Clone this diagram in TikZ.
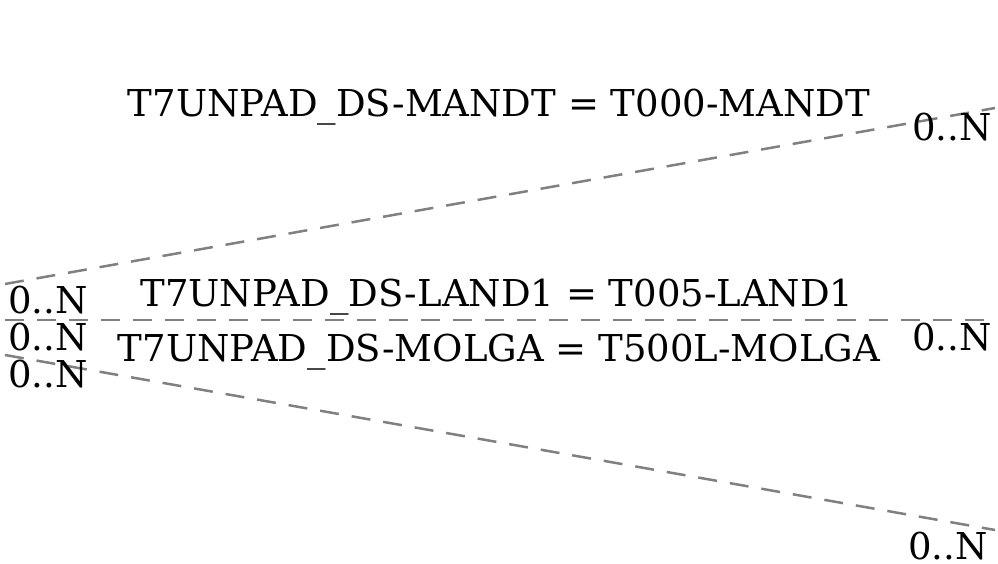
\documentclass[tikz,border=0pt]{standalone}
\usepackage{fontspec}
\setmainfont{DejaVu Serif}
\begin{document}
\begin{tikzpicture}[x=1pt,y=-1pt,
  rel/.style={draw={rgb,255:red,128;green,128;blue,128}, line width=2.5pt, dash pattern=on 19pt off 13pt},
  lbl/.style={inner sep=0pt, font=\fontsize{37}{41}\selectfont},
  card/.style={inner sep=0pt, font=\fontsize{37}{41}\selectfont}]
\useasboundingbox (0,0) rectangle (998,564);
\coordinate (l1) at (5,284);
\coordinate (r1) at (995,108);
\coordinate (l2) at (5,320);
\coordinate (r2) at (995,320);
\coordinate (l3) at (5,355);
\coordinate (r3) at (995,530);
\draw[rel] (l1) -- (r1);
\draw[rel] (l2) -- (r2);
\draw[rel] (l3) -- (r3);
\node[lbl] (t1) at (499,107) {T7UNPAD\_DS-MANDT = T000-MANDT};
\node[lbl] (t2) at (497,297) {T7UNPAD\_DS-LAND1 = T005-LAND1};
\node[lbl] (t3) at (499,352) {T7UNPAD\_DS-MOLGA = T500L-MOLGA};
\node[card] (c1) at (48,300) {0..N};
\node[card] (c2) at (48,337) {0..N};
\node[card] (c3) at (48,374) {0..N};
\node[card] (d1) at (952,127) {0..N};
\node[card] (d2) at (952,337) {0..N};
\node[card] (d3) at (948,546) {0..N};
\end{tikzpicture}
\end{document}
